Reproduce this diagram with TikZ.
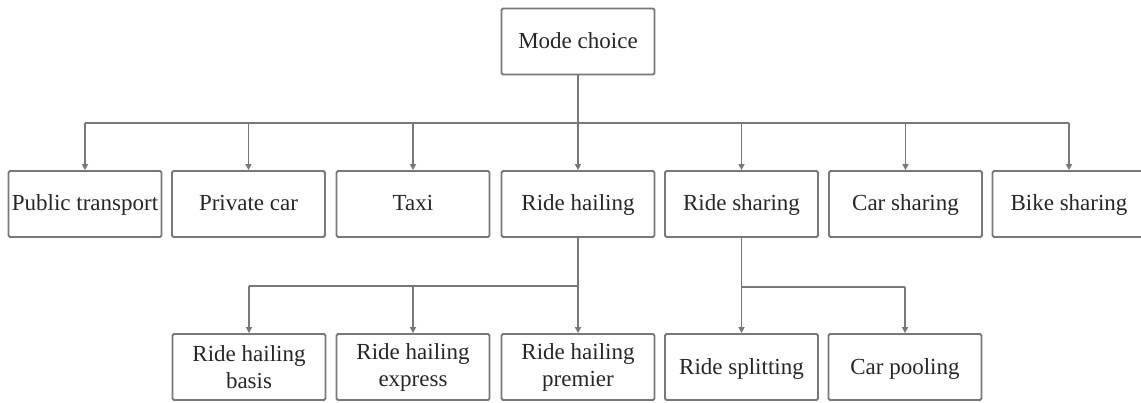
\documentclass[tikz,border=0pt]{standalone}
\usepackage{fontspec}
\setmainfont{Liberation Serif}
\usetikzlibrary{arrows.meta}
\definecolor{linec}{RGB}{120,120,120}
\begin{document}
\begin{tikzpicture}[x=1pt,y=-1pt,
  box/.style={draw=linec, line width=1.8pt, rounded corners=1.5pt, minimum width=153pt, minimum height=66pt, inner sep=0pt, align=center, font=\fontsize{23}{27}\selectfont, text=black!85},
  onebox/.style={box, text height=18pt, text depth=4pt},
  conn/.style={draw=linec, line width=1.6pt},
  arr/.style={conn, -{Triangle[length=6pt,width=6pt]}}]
\useasboundingbox (0,0) rectangle (1141,403);
\node[onebox] (mc) at (578,41.5) {Mode choice};
% row 2
\node[onebox] (pt) at (85,204) {Public transport};
\node[onebox] (pc) at (248.5,204) {Private car};
\node[onebox] (tx) at (413,204) {Taxi};
\node[onebox] (rh) at (578,204) {Ride hailing};
\node[onebox] (rs) at (741.5,204) {Ride sharing};
\node[onebox] (cs) at (905.5,204) {Car sharing};
\node[onebox] (bs) at (1069,204) {Bike sharing};
% row 3
\node[box] (rhb) at (249,367) {Ride hailing\\basis};
\node[box] (rhe) at (413,367) {Ride hailing\\express};
\node[box] (rhp) at (578,367) {Ride hailing\\premier};
\node[onebox] (rsp) at (741.5,367) {Ride splitting};
\node[onebox] (cp) at (905,367) {Car pooling};
% level 1 connectors
\coordinate (j1) at (578,123);
\draw[conn] (mc.south) -- (j1);
\draw[conn] (pt.north |- j1) -- (bs.north |- j1);
\foreach \n in {pt,pc,tx,rh,rs,cs,bs}
  \draw[arr] (\n.north |- j1) -- (\n.north);
% ride hailing children
\coordinate (j2) at (578,286);
\draw[arr] (rh.south) -- (rhp.north);
\draw[conn] (rhb.north |- j2) -- (j2);
\foreach \n in {rhb,rhe}
  \draw[arr] (\n.north |- j2) -- (\n.north);
% ride sharing children
\coordinate (j3) at (741.5,287);
\draw[arr] (rs.south) -- (rsp.north);
\draw[conn] (j3) -- (cp.north |- j3);
\draw[arr] (cp.north |- j3) -- (cp.north);
\end{tikzpicture}
\end{document}
